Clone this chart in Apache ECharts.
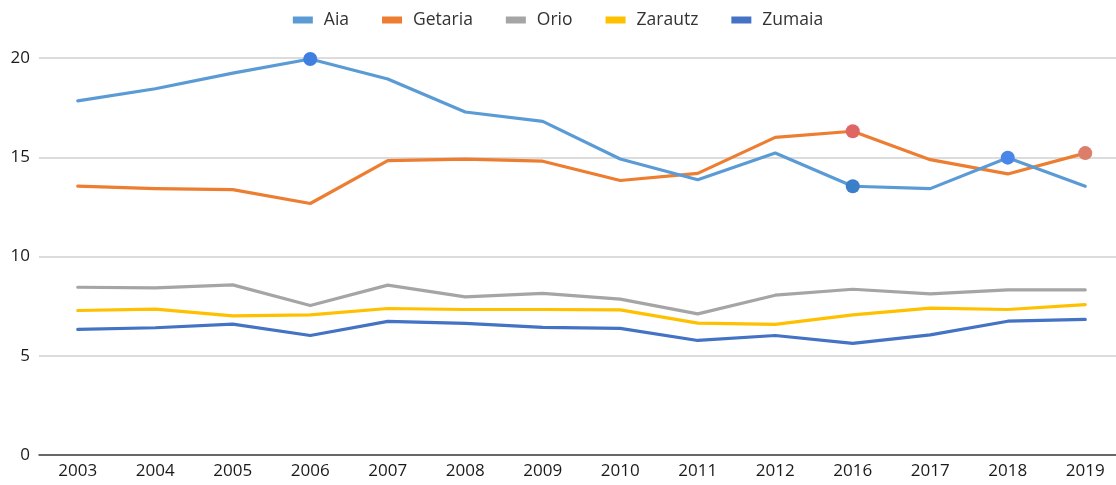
<!DOCTYPE html>
<html>
<head>
<meta charset="utf-8">
<script src="https://cdn.jsdelivr.net/npm/echarts@6/dist/echarts.min.js"></script>
<style>
html,body{margin:0;padding:0;background:#fff;}
#chart{width:1116px;height:485px;}
</style>
</head>
<body>
<div id="chart"></div>
<script>
const years = ['2003','2004','2005','2006','2007','2008','2009','2010','2011','2012','2016','2017','2018','2019'];
const seriesNames = ['Aia','Getaria','Orio','Zarautz','Zumaia'];
const aia     = [17.84,18.45,19.24,19.95,18.94,17.28,16.81,14.91,13.87,15.21,13.54,13.42,14.98,13.54];
const getaria = [13.55,13.42,13.37,12.67,14.83,14.91,14.80,13.83,14.19,16.00,16.31,14.88,14.16,15.21];
const orio    = [8.45,8.42,8.57,7.53,8.56,7.97,8.14,7.85,7.11,8.05,8.35,8.12,8.32,8.32];
const zarautz = [7.28,7.35,7.01,7.06,7.38,7.33,7.33,7.31,6.64,6.58,7.06,7.40,7.33,7.58];
const zumaia  = [6.33,6.41,6.59,6.02,6.73,6.63,6.43,6.38,5.77,6.02,5.62,6.05,6.74,6.83];
const yTicks = [0,5,10,15,20];

const colors = ['#5b9bd5','#ed7d31','#a5a5a5','#ffc000','#4472c4'];
// highlighted points: series index -> {category index: marker colour}
const highlights = {
  0: {3:'#3f7fe0', 10:'#3a7fc8', 12:'#4a86e8'},
  1: {10:'#e06666', 13:'#dd7e6b'}
};
const values = [aia, getaria, orio, zarautz, zumaia];
const FONT = 'Open Sans, Noto Sans, sans-serif';

const series = seriesNames.map((name, si) => ({
  name,
  type: 'line',
  symbol: 'none',
  clip: false,
  lineStyle: {width: 3.2, color: colors[si], join: 'round', cap: 'round'},
  itemStyle: {color: colors[si]},
  z: 10 - si,
  emphasis: {disabled: true},
  data: values[si].map((v, i) => {
    const h = highlights[si] && highlights[si][i];
    if (h) return {value: v, symbol: 'circle', symbolSize: 14, itemStyle: {color: h}};
    return v;
  })
}));

const chart = echarts.init(document.getElementById('chart'), null, {renderer: 'canvas'});
chart.setOption({
  animation: false,
  backgroundColor: '#ffffff',
  color: colors,
  textStyle: {fontFamily: FONT},
  legend: {
    top: 6,
    left: 'center',
    itemWidth: 20,
    itemHeight: 7,
    itemGap: 33,
    icon: 'rect',
    textStyle: {fontSize: 17.5, color: '#333333', fontFamily: FONT, padding: [0,0,0,6]},
    data: seriesNames
  },
  grid: {left: 39, top: 58, right: -8, bottom: 30, containLabel: false, outerBoundsMode: 'none'},
  xAxis: {
    type: 'category',
    data: years,
    boundaryGap: true,
    axisLine: {lineStyle: {color: '#404040', width: 1.5}},
    axisTick: {show: false},
    axisLabel: {fontSize: 17, color: '#1a1a1a', margin: 8, fontFamily: FONT}
  },
  yAxis: {
    type: 'value',
    min: yTicks[0],
    max: yTicks[yTicks.length - 1],
    interval: 5,
    axisLine: {show: false},
    axisTick: {show: false},
    splitLine: {lineStyle: {color: '#d0d0d0', width: 1.5}},
    axisLabel: {fontSize: 17, color: '#1a1a1a', margin: 9, fontFamily: FONT}
  },
  series
});
</script>
</body>
</html>
